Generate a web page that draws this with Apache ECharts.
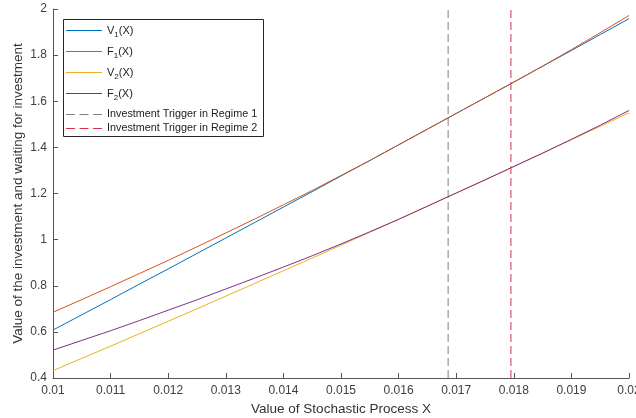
<!DOCTYPE html>
<html>
<head>
<meta charset="utf-8">
<script src="https://cdn.jsdelivr.net/npm/echarts@6/dist/echarts.min.js"></script>
<style>
  html, body { margin: 0; padding: 0; background: #fff; }
  #chart { width: 636px; height: 418px; }
</style>
</head>
<body>
<div id="chart"></div>
<script>
// Stochastic process values on the horizontal axis
const xValues = [0.0100, 0.0105, 0.0110, 0.0115, 0.0120, 0.0125, 0.0130, 0.0135, 0.0140, 0.0145,
                 0.0150, 0.0155, 0.0160, 0.0165, 0.0170, 0.0175, 0.0180, 0.0185, 0.0190, 0.0195, 0.0200];

// Value of the investment and of waiting, per regime
const v1 = [0.608, 0.674, 0.740, 0.807, 0.873, 0.940, 1.007, 1.074, 1.141, 1.208,
            1.276, 1.343, 1.411, 1.479, 1.547, 1.615, 1.683, 1.752, 1.820, 1.889, 1.958];
const f1 = [0.685, 0.740, 0.796, 0.853, 0.910, 0.969, 1.029, 1.089, 1.151, 1.213,
            1.278, 1.343, 1.411, 1.479, 1.547, 1.615, 1.683, 1.752, 1.824, 1.897, 1.972];
const v2 = [0.432, 0.485, 0.538, 0.592, 0.646, 0.700, 0.755, 0.810, 0.865, 0.920,
            0.976, 1.032, 1.088, 1.145, 1.202, 1.259, 1.317, 1.375, 1.433, 1.491, 1.550];
const f2 = [0.521, 0.563, 0.605, 0.649, 0.694, 0.739, 0.786, 0.833, 0.881, 0.930,
            0.981, 1.034, 1.088, 1.145, 1.202, 1.259, 1.317, 1.375, 1.435, 1.496, 1.560];

// Investment triggers (regime 1, regime 2)
const triggers = [0.01686, 0.01795];

// Axis ranges
const xRange = [0.01, 0.02];
const yRange = [0.4, 2];

const curveNames = ['V1(X)', 'F1(X)', 'V2(X)', 'F2(X)'];
const triggerNames = ['Investment Trigger in Regime 1', 'Investment Trigger in Regime 2'];

const curveColors = ['#0072BD', '#D95319', '#EDB120', '#7E2F8E'];
const triggerColors = ['#808080', '#d8304f'];

// Legend key shapes: a thin solid stroke and a three-dash stroke
const solidKey = 'path://M0 0H36V1H0Z';
const dashedKey = 'path://M0 0H9V1H0Z M13.5 0H22.5V1H13.5Z M27 0H36V1H27Z';

const pairs = ys => xValues.map((x, i) => [x, ys[i]]);

const chart = echarts.init(document.getElementById('chart'), null, { renderer: 'canvas' });

const curve = (name, ys, color) => ({
  name, type: 'line', data: pairs(ys), symbol: 'none', smooth: false,
  lineStyle: { color, width: 1 }, itemStyle: { color }, z: 2
});
const trigger = (name, x, color) => ({
  name, type: 'line', data: [[x, yRange[0]], [x, yRange[1]]], symbol: 'none',
  lineStyle: { color, width: 1, type: [8, 4] }, itemStyle: { color }, z: 1
});

// V1(X) -> V with subscript 1, followed by (X)
const subFmt = name => {
  const m = name.match(/^([VF])(\d)\((X)\)$/);
  return m ? `{a|${m[1]}}{s|${m[2]}}{a|(X)}` : name;
};

const makeLegend = extra => Object.assign({
  orient: 'vertical',
  left: 66,
  itemWidth: 36,
  itemHeight: 12,
  padding: 0,
  textStyle: {
    fontFamily: 'Liberation Sans', fontSize: 10.8, color: '#222',
    rich: {
      a: { fontSize: 11, fontFamily: 'Liberation Sans', color: '#222', lineHeight: 16, verticalAlign: 'middle' },
      s: { fontSize: 8, fontFamily: 'Liberation Sans', color: '#222', lineHeight: 16, verticalAlign: 'bottom' }
    }
  },
  z: 5
}, extra);

chart.setOption({
  animation: false,
  backgroundColor: '#fff',
  grid: { left: 53, right: 7, top: 9, bottom: 40, outerBoundsMode: 'none' },
  graphic: [{
    type: 'rect', left: 63, top: 19, z: 4,
    shape: { width: 200, height: 117 },
    style: { fill: '#fff', stroke: '#262626', lineWidth: 1 }
  }],
  legend: [
    makeLegend({
      id: 'curves', top: 25, itemGap: 7.5, formatter: subFmt,
      data: curveNames.map(name => ({ name, icon: solidKey }))
    }),
    makeLegend({
      id: 'triggers', top: 109, itemGap: 3,
      data: triggerNames.map(name => ({ name, icon: dashedKey }))
    })
  ],
  xAxis: {
    type: 'value', min: xRange[0], max: xRange[1], interval: 0.001,
    name: 'Value of Stochastic Process X', nameLocation: 'middle', nameGap: 24,
    nameTextStyle: { fontFamily: 'Liberation Sans', fontSize: 13.5, color: '#333' },
    axisLine: { lineStyle: { color: '#555', width: 1 } },
    axisTick: { inside: true, length: 5, lineStyle: { color: '#555' } },
    axisLabel: { fontFamily: 'Liberation Sans', fontSize: 12, color: '#404040', margin: 7,
                 formatter: v => String(parseFloat(v.toFixed(4))) },
    splitLine: { show: false }
  },
  yAxis: {
    type: 'value', min: yRange[0], max: yRange[1], interval: 0.2,
    name: 'Value of the investment and waiting for investment', nameLocation: 'middle',
    nameGap: 28, nameMoveOverlap: false,
    nameTextStyle: { fontFamily: 'Liberation Sans', fontSize: 13.5, color: '#333' },
    axisLine: { lineStyle: { color: '#555', width: 1 } },
    axisTick: { inside: true, length: 5, lineStyle: { color: '#555' } },
    axisLabel: { fontFamily: 'Liberation Sans', fontSize: 12, color: '#404040', margin: 6,
                 formatter: v => String(parseFloat(v.toFixed(1))) },
    splitLine: { show: false }
  },
  series: [
    trigger(triggerNames[0], triggers[0], triggerColors[0]),
    trigger(triggerNames[1], triggers[1], triggerColors[1]),
    curve(curveNames[0], v1, curveColors[0]),
    curve(curveNames[1], f1, curveColors[1]),
    curve(curveNames[2], v2, curveColors[2]),
    curve(curveNames[3], f2, curveColors[3])
  ]
});
</script>
</body>
</html>
